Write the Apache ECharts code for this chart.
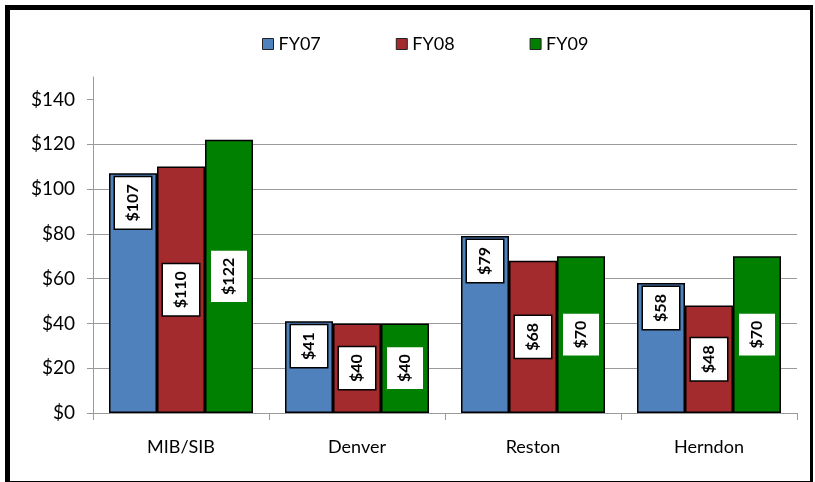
<!DOCTYPE html>
<html>
<head>
<meta charset="utf-8">
<script src="https://cdn.jsdelivr.net/npm/echarts@6/dist/echarts.min.js"></script>
<style>
  html, body { margin: 0; padding: 0; background: #fff; }
  #chart { position: absolute; left: 0; top: 0; width: 815px; height: 482px; }
  #frame {
    position: absolute; left: 5px; top: 5px; width: 800px; height: 471px;
    border-style: solid; border-color: #000;
    border-width: 5px 3px 3px 5px;
    pointer-events: none;
  }
</style>
</head>
<body>
<div id="chart"></div>
<div id="frame"></div>
<script>
  // sites and yearly values ($)
  const sites = ['MIB/SIB', 'Denver', 'Reston', 'Herndon']
  const fy07 = [107, 41, 79, 58]
  const fy08 = [110, 40, 68, 48]
  const fy09 = [122, 40, 70, 70]
  const yTicks = [0, 20, 40, 60, 80, 100, 120, 140]

  const fontFamily = 'Lato, "Open Sans", sans-serif'

  const chart = echarts.init(document.getElementById('chart'))

  // label box inside each bar, text turned to read upward
  function barLabel(pos, bordered) {
    return {
      show: true,
      position: pos,
      distance: 4,
      rotate: 90,
      align: pos === 'insideTop' ? 'right' : 'center',
      verticalAlign: 'middle',
      formatter: p => '$' + p.value,
      color: '#000',
      fontFamily: fontFamily,
      fontWeight: 'bold',
      fontSize: 16,
      lineHeight: 18,
      backgroundColor: '#fff',
      borderColor: bordered ? '#000' : 'transparent',
      borderWidth: bordered ? 1.5 : 0,
      padding: [9, 7]
    }
  }

  function makeSeries(name, data, color, pos, bordered) {
    return {
      name: name,
      type: 'bar',
      data: data,
      barWidth: 48,
      barGap: '0%',
      itemStyle: { color: color, borderColor: '#000', borderWidth: 1.5 },
      label: barLabel(pos, bordered),
      emphasis: { disabled: true }
    }
  }

  chart.setOption({
    animation: false,
    legend: {
      top: 30,
      left: 257,
      itemWidth: 11,
      itemHeight: 11,
      itemGap: 75,
      icon: 'rect',
      itemStyle: { borderColor: '#222', borderWidth: 1 },
      textStyle: { fontFamily: fontFamily, fontSize: 18, color: '#000' },
      data: ['FY07', 'FY08', 'FY09']
    },
    grid: { left: 93, right: 18, top: 77, bottom: 69 },
    xAxis: {
      type: 'category',
      data: sites,
      axisLine: { lineStyle: { color: '#9a9a9a', width: 1 } },
      axisTick: { show: true, length: 7, lineStyle: { color: '#9a9a9a' } },
      axisLabel: { margin: 25, fontFamily: fontFamily, fontSize: 18, color: '#000' },
      splitLine: { show: false }
    },
    yAxis: {
      type: 'value',
      min: 0,
      max: 150,
      interval: 10,
      axisLine: { show: true, lineStyle: { color: '#9a9a9a', width: 1 } },
      axisTick: { show: true, length: 6, customValues: yTicks, lineStyle: { color: '#9a9a9a' } },
      axisLabel: {
        customValues: yTicks,
        margin: 18,
        fontFamily: fontFamily,
        fontSize: 19,
        color: '#000',
        formatter: v => '$' + v
      },
      splitLine: { show: true, showMaxLine: false, lineStyle: { color: '#9a9a9a', width: 1 } }
    },
    series: [
      makeSeries('FY07', fy07, '#4f81bd', 'insideTop', true),
      makeSeries('FY08', fy08, '#a32b2d', 'inside', true),
      makeSeries('FY09', fy09, '#008000', 'inside', false)
    ]
  })
</script>
</body>
</html>
